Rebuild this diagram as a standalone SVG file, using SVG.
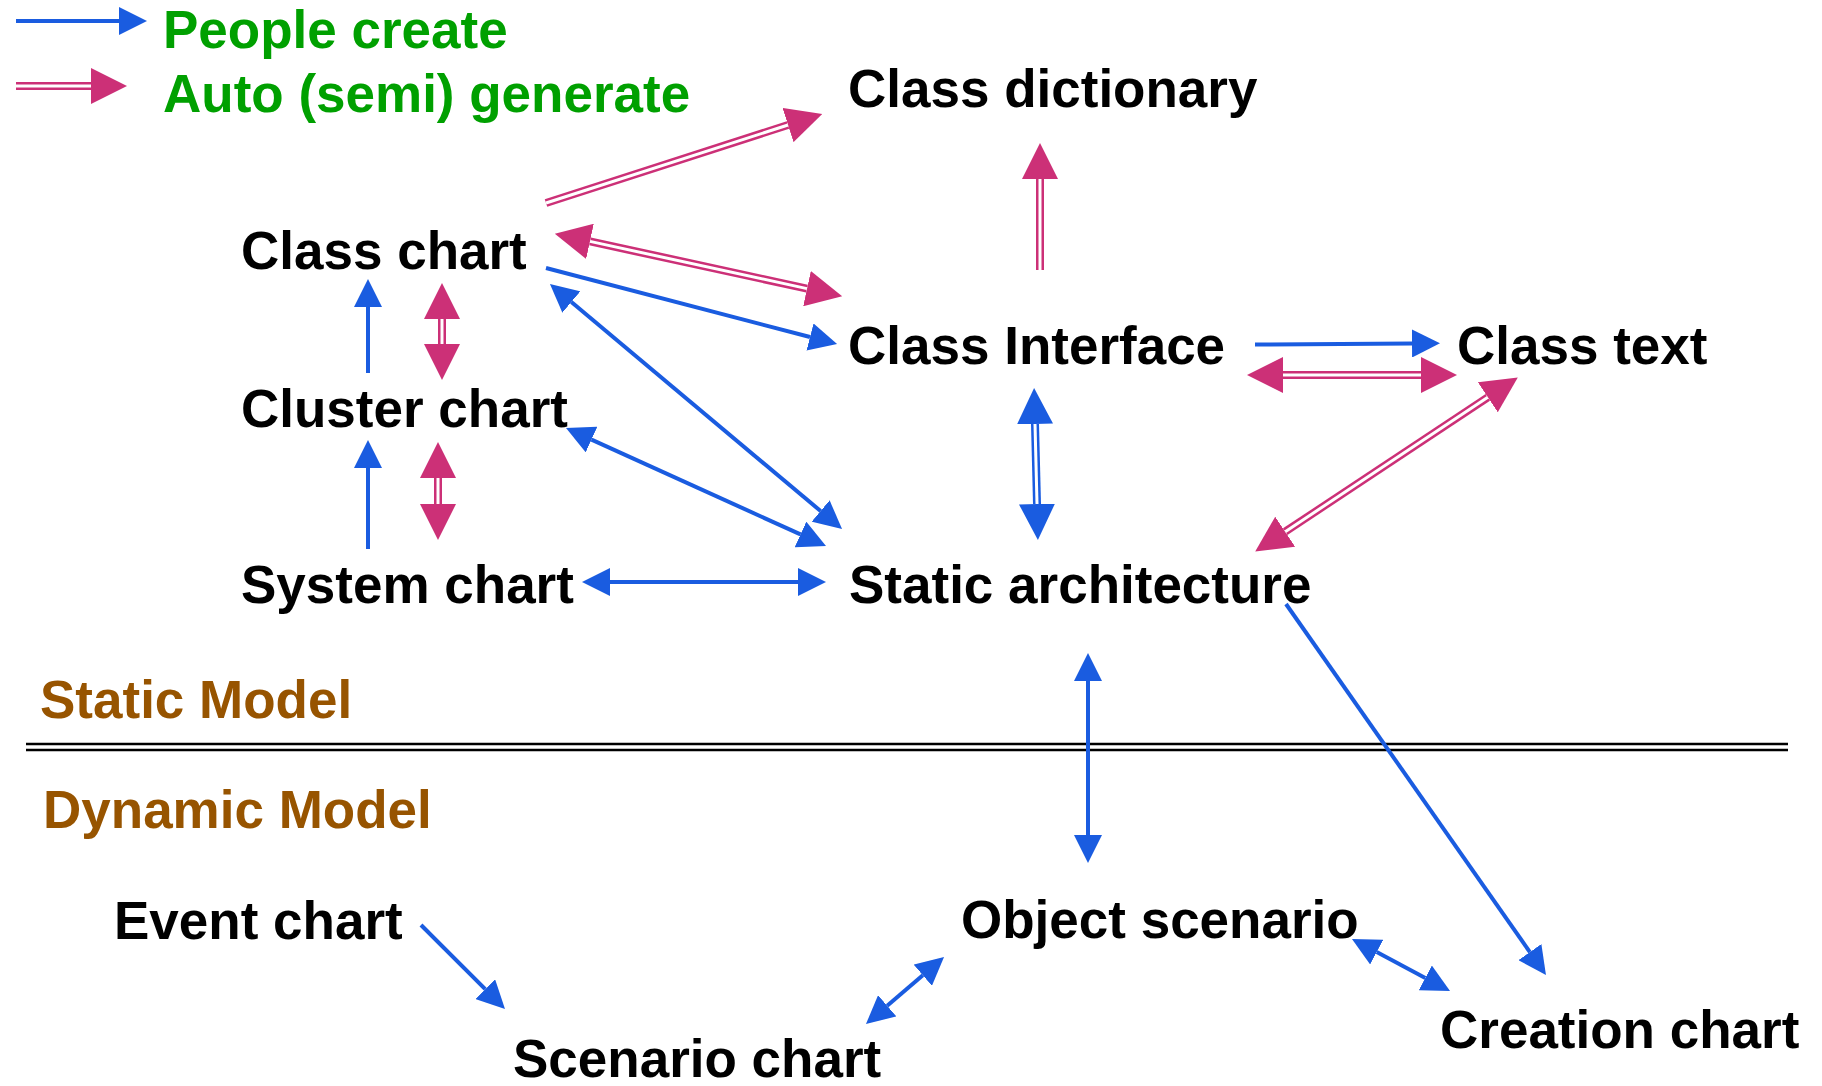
<svg xmlns="http://www.w3.org/2000/svg" width="1822" height="1086" viewBox="0 0 1822 1086">
<style>
text{font-family:"Liberation Sans",Arial,sans-serif;font-weight:bold;font-size:53px;fill:#000}
.leg{fill:#00A000}
.sec{fill:#975400}
.b{fill:none;stroke:#1A5CE0;stroke-width:4}
.po{fill:none;stroke:#CC3077;stroke-width:8}
.bo{fill:none;stroke:#1A5CE0;stroke-width:8}
.wi{fill:none;stroke:#fff;stroke-width:3}
.sep{stroke:#000;stroke-width:2.5}
</style>
<defs>
<marker id="hb" markerUnits="userSpaceOnUse" markerWidth="28" markerHeight="28" viewBox="0 0 28 28" refX="0" refY="14" orient="auto-start-reverse"><path d="M0,0 L28,14 L0,28 z" fill="#1A5CE0"/></marker>
<marker id="hp" markerUnits="userSpaceOnUse" markerWidth="36" markerHeight="36" viewBox="0 0 36 36" refX="0" refY="18" orient="auto-start-reverse"><path d="M0,0 L36,18 L0,36 z" fill="#CC3077"/></marker>
<marker id="hbl" markerUnits="userSpaceOnUse" markerWidth="36" markerHeight="36" viewBox="0 0 36 36" refX="0" refY="18" orient="auto-start-reverse"><path d="M0,0 L36,18 L0,36 z" fill="#1A5CE0"/></marker>
</defs>
<rect width="1822" height="1086" fill="#fff"/>

<g id="legend">
<path class="b" d="M16,21 L119,21" marker-end="url(#hb)"/>
<text class="leg" x="163" y="48">People create</text>
<path class="po" d="M16,86 L91,86" marker-end="url(#hp)"/>
<path class="wi" d="M16,86 L91,86"/>
<text class="leg" x="163" y="112">Auto (semi) generate</text>
</g>

<g id="separator">
<line class="sep" x1="26" y1="744" x2="1788" y2="744"/>
<line class="sep" x1="26" y1="750" x2="1788" y2="750"/>
<text class="sec" x="40" y="718">Static Model</text>
<text class="sec" x="43" y="828">Dynamic Model</text>
</g>

<g id="connectors">
<!-- Class chart -> Class dictionary -->
<path class="po" d="M546,203 L788,125" marker-end="url(#hp)"/>
<path class="wi" d="M546,203 L788,125"/>
<!-- Class chart <-> Class Interface -->
<path class="po" d="M590,241.4 L807,288.6" marker-start="url(#hp)" marker-end="url(#hp)"/>
<path class="wi" d="M590,241.4 L807,288.6"/>
<!-- Class chart -> Class Interface -->
<path class="b" d="M546,268 L810,337" marker-end="url(#hb)"/>
<!-- Class Interface -> Class dictionary -->
<path class="po" d="M1040,270 L1040,179" marker-end="url(#hp)"/>
<path class="wi" d="M1040,270 L1040,179"/>
<!-- Cluster -> Class chart -->
<path class="b" d="M368,373 L368,307" marker-end="url(#hb)"/>
<!-- Class chart <-> Cluster -->
<path class="po" d="M442,319 L442,344" marker-start="url(#hp)" marker-end="url(#hp)"/>
<path class="wi" d="M442,319 L442,344"/>
<!-- System -> Cluster -->
<path class="b" d="M368,549 L368,468" marker-end="url(#hb)"/>
<!-- Cluster <-> System -->
<path class="po" d="M438,478 L438,504" marker-start="url(#hp)" marker-end="url(#hp)"/>
<path class="wi" d="M438,478 L438,504"/>
<!-- System <-> Static architecture -->
<path class="b" d="M610,582 L798,582" marker-start="url(#hb)" marker-end="url(#hb)"/>
<!-- Class chart <-> Static architecture -->
<path class="b" d="M571.4,302 L820.6,511" marker-start="url(#hb)" marker-end="url(#hb)"/>
<!-- Cluster <-> Static architecture -->
<path class="b" d="M591.5,439.6 L800.5,534.4" marker-start="url(#hb)" marker-end="url(#hb)"/>
<!-- Class Interface -> Class text -->
<path class="b" d="M1255,344.5 L1412,343.5" marker-end="url(#hb)"/>
<!-- Class Interface <-> Class text -->
<path class="po" d="M1283,375 L1421,375" marker-start="url(#hp)" marker-end="url(#hp)"/>
<path class="wi" d="M1283,375 L1421,375"/>
<!-- Class Interface <-> Static architecture (blue double) -->
<path class="bo" d="M1035,424 L1037,504" marker-start="url(#hbl)" marker-end="url(#hbl)"/>
<path class="wi" d="M1035,424 L1037,504"/>
<!-- Class text <-> Static architecture -->
<path class="po" d="M1285.2,531.7 L1487.8,397.3" marker-start="url(#hp)" marker-end="url(#hp)"/>
<path class="wi" d="M1285.2,531.7 L1487.8,397.3"/>
<!-- Static architecture <-> Object scenario -->
<path class="b" d="M1088,681 L1088,835" marker-start="url(#hb)" marker-end="url(#hb)"/>
<!-- Static architecture -> Creation chart -->
<path class="b" d="M1286,604 L1529.9,952.1" marker-end="url(#hb)"/>
<!-- Object scenario <-> Creation chart -->
<path class="b" d="M1376.7,952.1 L1425.3,977.9" marker-start="url(#hb)" marker-end="url(#hb)"/>
<!-- Event chart -> Scenario chart -->
<path class="b" d="M421,925 L485.2,989.2" marker-end="url(#hb)"/>
<!-- Object scenario <-> Scenario chart -->
<path class="b" d="M922.8,975.2 L887.2,1005.8" marker-start="url(#hb)" marker-end="url(#hb)"/>
</g>

<g id="class-dictionary"><text x="848" y="107">Class dictionary</text></g>
<g id="class-chart"><text x="241" y="269">Class chart</text></g>
<g id="class-interface"><text x="848" y="364">Class Interface</text></g>
<g id="class-text"><text x="1457" y="364">Class text</text></g>
<g id="cluster-chart"><text x="241" y="427">Cluster chart</text></g>
<g id="system-chart"><text x="241" y="603">System chart</text></g>
<g id="static-architecture"><text x="849" y="603">Static architecture</text></g>
<g id="event-chart"><text x="114" y="939">Event chart</text></g>
<g id="object-scenario"><text x="961" y="938">Object scenario</text></g>
<g id="scenario-chart"><text x="513" y="1077">Scenario chart</text></g>
<g id="creation-chart"><text x="1440" y="1048">Creation chart</text></g>
</svg>
